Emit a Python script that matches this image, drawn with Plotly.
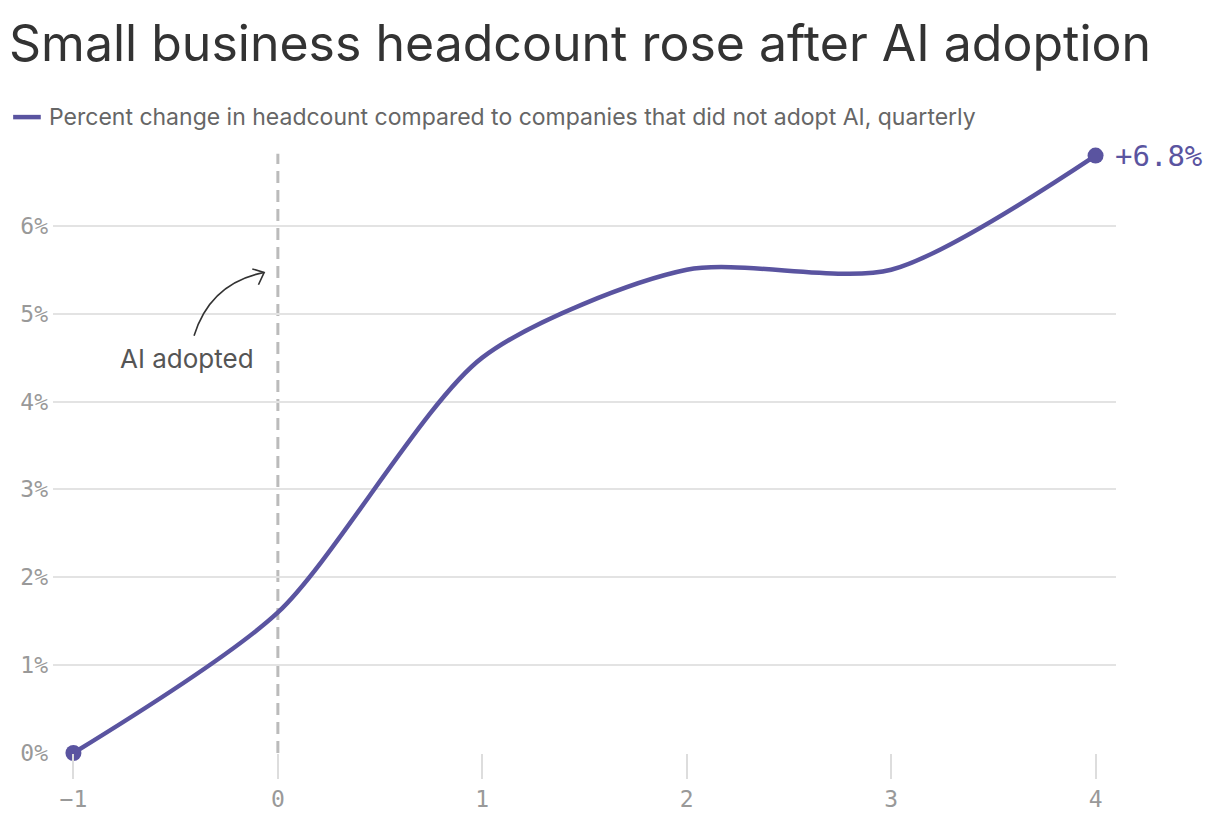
import plotly.graph_objects as go

# datos
trimestres = [-1, 0, 1, 2, 3, 4]
cambio_pct = [0, 1.6, 4.5, 5.5, 5.5, 6.8]
y_ticks = [0, 1, 2, 3, 4, 5, 6]
y_labels = ["0%", "1%", "2%", "3%", "4%", "5%", "6%"]
x_ticks = [-1, 0, 1, 2, 3, 4]
x_labels = ["−1", "0", "1", "2", "3", "4"]

morado = "#5a54a0"
mono = "DejaVu Sans Mono"
sans = "Inter"

fig = go.Figure()

# linea de adopcion
fig.add_shape(type="line", x0=0, x1=0, y0=0, y1=6.82, xref="x", yref="y",
              line=dict(color="#bbbbbb", width=3, dash="12px,7px"), layer="below")

fig.add_trace(go.Scatter(
    x=trimestres, y=cambio_pct, mode="lines",
    line=dict(color=morado, width=4.5, shape="spline", smoothing=0.75),
    hoverinfo="skip", showlegend=False, cliponaxis=False,
))
fig.add_trace(go.Scatter(
    x=[trimestres[0], trimestres[-1]], y=[cambio_pct[0], cambio_pct[-1]],
    mode="markers", marker=dict(color=morado, size=16),
    showlegend=False, cliponaxis=False,
))

# etiqueta final
fig.add_annotation(x=trimestres[-1], y=cambio_pct[-1], text="+6.8%",
                   showarrow=False, xanchor="left", xshift=17,
                   font=dict(family=mono, size=29, color=morado))

# anotacion AI adopted con flecha curva
fig.add_annotation(x=-0.443, y=4.49, text="AI adopted", showarrow=False,
                   xanchor="center", yanchor="middle",
                   font=dict(family=sans, size=26, color="#555555"))
fig.add_shape(type="path", xref="x", yref="y",
              path="M -0.41,4.75 Q -0.33,5.35 -0.067,5.47",
              line=dict(color="#333333", width=1.6))
fig.add_shape(type="path", xref="x", yref="y",
              path="M -0.125,5.51 L -0.067,5.47 L -0.095,5.33",
              line=dict(color="#333333", width=1.6))

# titulo y leyenda
fig.add_annotation(xref="paper", yref="paper", x=-0.043, y=1.154,
                   text="Small business headcount rose after AI adoption",
                   showarrow=False, xanchor="left", yanchor="middle",
                   font=dict(family=sans, size=50, color="#333333"))
fig.add_shape(type="line", xref="paper", yref="paper", x0=-0.0375, x1=-0.0115,
              y0=1.034, y1=1.034, line=dict(color=morado, width=4.5))
fig.add_annotation(xref="paper", yref="paper", x=-0.006, y=1.034,
                   text="Percent change in headcount compared to companies that did not adopt AI, quarterly",
                   showarrow=False, xanchor="left", yanchor="middle",
                   font=dict(family=sans, size=23, color="#666666"))

fig.update_layout(
    width=1220, height=822,
    margin=dict(l=42, r=112, t=130, b=77),
    plot_bgcolor="white", paper_bgcolor="white",
    showlegend=False,
)
fig.update_xaxes(range=[-1.1, 4.1], tickvals=x_ticks, ticktext=x_labels,
                 showgrid=False, zeroline=False, showline=False,
                 ticks="outside", ticklen=25, tickcolor="#dddddd", tickwidth=2,
                 tickfont=dict(family=mono, size=23, color="#999999"))
fig.update_yaxes(range=[0, 7], tickvals=y_ticks, ticktext=y_labels,
                 showgrid=True, gridcolor="#e3e3e3", gridwidth=1.5,
                 zeroline=False, showline=False, ticks="", ticklabelstandoff=4,
                 tickfont=dict(family=mono, size=23, color="#999999"))

fig.write_html("out.html")
